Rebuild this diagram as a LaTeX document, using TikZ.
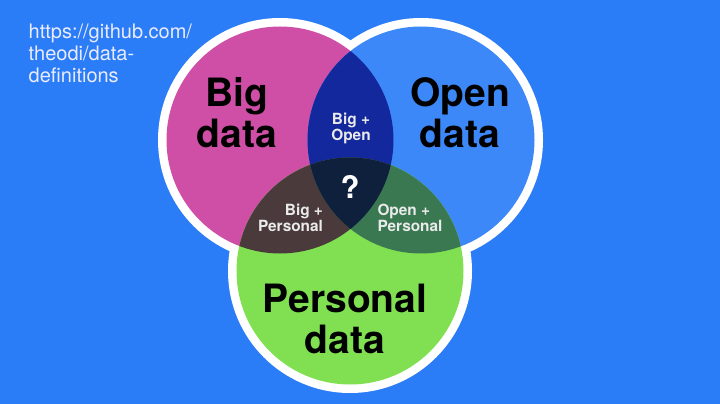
\documentclass[tikz,border=0pt]{standalone}
\usepackage{fontspec}
\setmainfont{TeX Gyre Heros}
\definecolor{slidebg}{HTML}{2A7DF6}
\definecolor{bigpink}{HTML}{CF4FA6}
\definecolor{openblue}{HTML}{3D88F9}
\definecolor{persgreen}{HTML}{80E052}
\definecolor{bigopen}{HTML}{14289D}
\definecolor{bigpers}{HTML}{4A3A3B}
\definecolor{openpers}{HTML}{3A7852}
\definecolor{allthree}{HTML}{0F203C}
\tikzset{
  bigname/.style={font=\fontsize{39}{41}\selectfont\bfseries, align=center, text=black},
  smallname/.style={font=\fontsize{15.4}{16}\selectfont\bfseries, align=center, text=white!92!black},
}
\begin{document}
\begin{tikzpicture}[x=1pt, y=-1pt]
    \fill[slidebg] (0, 0) rectangle (720, 404);
    \useasboundingbox (0, 0) rectangle (720, 404);

    \coordinate (B) at (280, 140);
    \coordinate (O) at (421, 140);
    \coordinate (P) at (350, 271);
    \def\rad{113.5pt}
    \def\ringrad{122pt}

    % White rings
    \foreach \c in {B, O, P} {
      \fill[white] (\c) circle[radius=\ringrad];
    }

    % Drawing the three sets
    \fill[bigpink] (B) circle[radius=\rad];
    \fill[openblue] (O) circle[radius=\rad];
    \fill[persgreen] (P) circle[radius=\rad];

    % Overlaps of two sets
    \begin{scope}
      \clip (B) circle[radius=\rad];
      \fill[bigopen] (O) circle[radius=\rad];
      \fill[bigpers] (P) circle[radius=\rad];
    \end{scope}
    \begin{scope}
      \clip (O) circle[radius=\rad];
      \fill[openpers] (P) circle[radius=\rad];
    \end{scope}

    % Overlap of all three
    \begin{scope}
      \clip (B) circle[radius=\rad];
      \clip (O) circle[radius=\rad];
      \fill[allthree] (P) circle[radius=\rad];
    \end{scope}

    \node[bigname] (bigdata) at (237, 113) {Big\\data};
    \node[bigname] (opendata) at (460, 113) {Open\\data};
    \node[bigname] (persdata) at (345, 319) {Personal\\data};
    \node[smallname] (bigopenlab) at (351, 128) {Big +\\Open};
    \node[smallname, align=right] (bigperslab) at (290.5, 218) {Big +\\Personal};
    \node[smallname, align=left] (openperslab) at (410, 218) {Open +\\Personal};
    \node[font=\fontsize{31}{31}\selectfont\bfseries, text=white] (what) at (350, 187) {?};
    \node[font=\fontsize{20}{22}\selectfont, text=white!92!blue, align=left, anchor=north west, inner sep=0pt]
      (link) at (28.5, 24) {https://github.com/\\theodi/data-\\definitions};
\end{tikzpicture}
\end{document}
